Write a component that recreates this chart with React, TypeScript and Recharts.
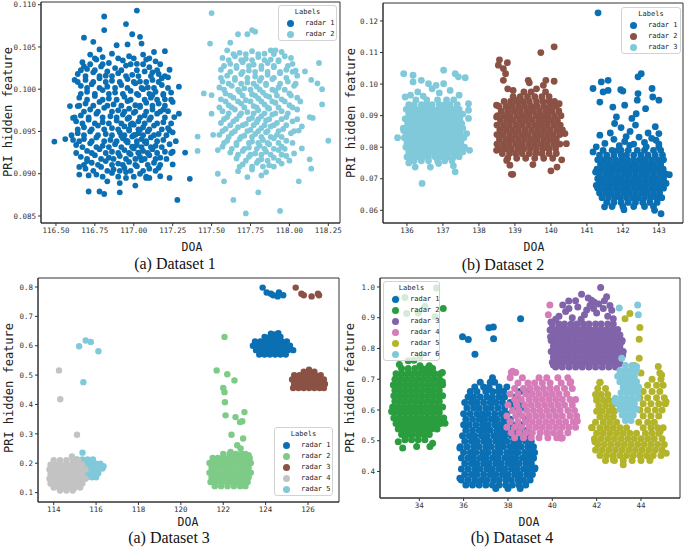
import React from 'react';
import { ScatterChart, Scatter, XAxis, YAxis, ReferenceArea } from 'recharts';

type Pt = [number, number];
type Row = [number, number[]];

// ---------------- Dataset 1 ----------------
const D1_R1: Pt[] = [
  [116.81,0.1086],[117.02,0.1093],[116.81,0.1070],[116.95,0.1077],[116.68,0.1061],[116.99,0.1065],[117.04,0.1062],[116.74,0.1056],
  [116.78,0.1047],[116.89,0.1052],[116.96,0.1053],[117.05,0.1054],[117.13,0.1044],[117.20,0.1045],[117.08,0.1035],[116.68,0.1027],
  [116.62,0.1011],[116.59,0.0980],[116.64,0.0980],[116.61,0.0966],[116.49,0.0938],[116.56,0.0941],[116.61,0.0940],[116.65,0.0908],
  [116.65,0.0899],[116.70,0.0915],[116.71,0.0898],[116.71,0.0879],[116.78,0.0879],[116.81,0.0876],[116.83,0.0891],[116.91,0.0878],
  [116.91,0.0889],[116.95,0.0895],[117.01,0.0886],[117.08,0.0895],[117.10,0.0895],[117.16,0.0907],[117.17,0.0897],[117.23,0.0895],
  [117.25,0.0911],[117.25,0.0926],[117.28,0.0869],[117.33,0.0925],[117.36,0.0894],[117.29,0.0971],[117.29,0.1003],[117.25,0.0985],
  [117.23,0.0951],[117.19,0.0976],[117.19,0.0993],[117.23,0.1023],[117.18,0.1013],[117.12,0.1020],[117.12,0.0993],
  [116.72,0.1041],[116.80,0.1038],[116.86,0.1042],[116.97,0.1039],[117.06,0.1041],
  [116.67,0.1032],[116.76,0.1035],[116.84,0.1031],[116.93,0.1034],[117.02,0.1030],[117.14,0.1033],
  [116.70,0.1024],[116.79,0.1027],[116.88,0.1025],[116.95,0.1028],[117.10,0.1026],[116.83,0.1021],
  [116.64,0.1018],[116.74,0.1020],[116.82,0.1016],[116.90,0.1019],[116.99,0.1017],[117.07,0.1021],[117.16,0.1018],
  [116.69,0.1011],[116.78,0.1013],[116.86,0.1010],[116.96,0.1012],[117.04,0.1009],[117.12,0.1011],[117.22,0.1014],
  [116.66,0.1004],[116.73,0.1006],[116.83,0.1003],[116.92,0.1005],[117.01,0.1007],[117.09,0.1002],[117.18,0.1005],
  [116.70,0.0997],[116.80,0.0999],[116.88,0.0996],[116.98,0.0998],[117.06,0.1000],[117.14,0.0997],[117.24,0.0996],
  [116.65,0.0990],[116.75,0.0992],[116.84,0.0989],[116.94,0.0991],[117.03,0.0993],[117.11,0.0990],[117.20,0.0988],
  [116.69,0.0983],[116.78,0.0985],[116.87,0.0982],[116.96,0.0986],[117.01,0.0981],[117.08,0.0984],[117.16,0.0983],
  [116.72,0.0976],[116.81,0.0978],[116.90,0.0975],[116.97,0.0977],[117.04,0.0979],[117.12,0.0976],[117.22,0.0974],
  [116.66,0.0969],[116.76,0.0971],[116.85,0.0968],[116.93,0.0970],[117.00,0.0972],[117.07,0.0969],[117.15,0.0971],[117.26,0.0967],
  [116.63,0.0962],[116.71,0.0964],[116.80,0.0961],[116.89,0.0963],[116.96,0.0965],[117.03,0.0962],[117.10,0.0964],[117.19,0.0961],
  [116.68,0.0955],[116.77,0.0957],[116.86,0.0954],[116.94,0.0956],[117.00,0.0958],[117.06,0.0955],[117.13,0.0957],[117.22,0.0954],
  [116.64,0.0948],[116.72,0.0950],[116.82,0.0947],[116.91,0.0949],[116.97,0.0951],[117.03,0.0948],[117.09,0.0950],[117.16,0.0947],[117.25,0.0949],
  [116.68,0.0941],[116.76,0.0943],[116.85,0.0940],[116.93,0.0942],[116.99,0.0944],[117.05,0.0941],[117.11,0.0943],[117.19,0.0940],
  [116.63,0.0934],[116.72,0.0936],[116.80,0.0933],[116.88,0.0935],[116.96,0.0937],[117.02,0.0934],[117.08,0.0936],[117.14,0.0933],[117.23,0.0935],
  [116.70,0.0927],[116.78,0.0929],[116.86,0.0926],[116.94,0.0928],[117.00,0.0930],[117.06,0.0927],[117.12,0.0929],[117.20,0.0926],
  [116.66,0.0920],[116.75,0.0922],[116.84,0.0919],[116.91,0.0921],[116.98,0.0923],[117.04,0.0920],[117.10,0.0922],[117.17,0.0919],
  [116.73,0.0913],[116.82,0.0915],[116.90,0.0912],[116.97,0.0914],[117.05,0.0916],[117.13,0.0913],
  [116.69,0.0906],[116.79,0.0908],[116.87,0.0905],[116.94,0.0907],[117.02,0.0909],[117.10,0.0906],
  [116.76,0.0899],[116.86,0.0901],[116.95,0.0902],[117.04,0.0900],
  [116.98,0.0958],[117.01,0.0946],[116.95,0.0939],[117.04,0.0952],[116.92,0.0945],[117.07,0.0938],[116.99,0.0932],[117.03,0.0925],
];
const D1_R1_FILL: Row[] = [
  [0.10365,[116.75,116.90,117.00,117.10]],
  [0.10295,[116.72,116.80,116.98,117.06,117.17]],
  [0.10225,[116.66,116.75,116.92,117.02,117.15]],
  [0.10155,[116.69,116.78,116.86,116.95,117.03,117.11,117.20]],
  [0.10085,[116.64,116.74,116.82,116.91,117.00,117.08,117.16]],
  [0.10015,[116.70,116.78,116.88,116.96,117.05,117.13,117.22]],
  [0.09945,[116.66,116.75,116.84,116.93,117.02,117.10,117.19]],
  [0.09875,[116.70,116.80,116.89,116.98,117.07,117.15,117.24]],
  [0.09805,[116.65,116.74,116.83,116.92,117.04,117.12,117.20]],
  [0.09735,[116.68,116.77,116.86,116.94,117.01,117.08,117.17]],
  [0.09665,[116.62,116.71,116.80,116.89,116.97,117.04,117.11,117.20]],
  [0.09595,[116.67,116.75,116.84,116.92,116.99,117.07,117.15,117.24]],
  [0.09525,[116.64,116.73,116.81,116.90,116.97,117.03,117.10,117.18]],
  [0.09455,[116.60,116.68,116.77,116.86,116.94,117.00,117.06,117.13,117.21]],
  [0.09385,[116.65,116.73,116.81,116.89,116.96,117.02,117.08,117.15,117.27]],
  [0.09315,[116.67,116.76,116.84,116.92,116.99,117.05,117.11,117.18]],
  [0.09245,[116.63,116.73,116.82,116.90,116.97,117.03,117.09,117.15,117.24]],
  [0.09175,[116.70,116.79,116.87,116.95,117.01,117.07,117.14,117.21]],
  [0.09105,[116.68,116.77,116.86,116.93,117.01,117.09,117.17]],
  [0.09035,[116.74,116.83,116.91,116.98,117.06,117.14]],
  [0.08965,[116.80,116.90,117.00,117.08]],
];

const D1_R2: Pt[] = [
  [117.50,0.1090],[117.49,0.1054],[117.73,0.1065],[117.76,0.1070],[117.78,0.1068],[117.67,0.1065],[117.62,0.1055],[117.88,0.1046],
  [117.91,0.1046],[118.19,0.1031],[118.18,0.1007],[118.21,0.1000],[118.21,0.0982],[118.25,0.0939],[118.13,0.0967],[118.15,0.0966],
  [118.13,0.0917],[118.14,0.0906],[118.06,0.0891],[117.80,0.0878],[117.64,0.0869],[117.72,0.0853],[117.94,0.0856],[117.58,0.0891],
  [117.54,0.0900],[117.45,0.0995],[117.41,0.0944],[117.41,0.0927],[117.50,0.0993],[117.50,0.0971],[117.51,0.0946],[117.54,0.0928],
  [118.03,0.0924],[118.08,0.0930],[118.08,0.0956],[118.14,0.1011],[118.04,0.1022],[118.10,0.1021],[118.01,0.1037],
  [117.60,0.1046],[117.68,0.1043],[117.76,0.1045],[117.84,0.1042],[117.95,0.1044],
  [117.57,0.1037],[117.65,0.1039],[117.72,0.1036],[117.80,0.1038],[117.88,0.1035],[117.97,0.1039],
  [117.62,0.1030],[117.70,0.1032],[117.77,0.1029],[117.86,0.1031],[117.93,0.1033],[118.02,0.1030],
  [117.56,0.1023],[117.66,0.1025],[117.74,0.1022],[117.82,0.1024],[117.90,0.1026],[117.98,0.1023],
  [117.60,0.1016],[117.69,0.1018],[117.78,0.1015],[117.86,0.1017],[117.94,0.1019],[118.05,0.1016],
  [117.57,0.1009],[117.65,0.1011],[117.73,0.1008],[117.81,0.1010],[117.89,0.1012],[117.99,0.1009],
  [117.55,0.1002],[117.63,0.1004],[117.71,0.1001],[117.79,0.1003],[117.85,0.1005],[117.93,0.1002],[118.03,0.1004],
  [117.59,0.0995],[117.68,0.0997],[117.76,0.0994],[117.83,0.0996],[117.91,0.0998],[118.00,0.0995],
  [117.56,0.0988],[117.64,0.0990],[117.72,0.0987],[117.80,0.0989],[117.87,0.0991],[117.95,0.0988],[118.05,0.0990],
  [117.61,0.0981],[117.69,0.0983],[117.77,0.0980],[117.84,0.0982],[117.91,0.0984],[118.00,0.0981],
  [117.57,0.0974],[117.65,0.0976],[117.73,0.0973],[117.80,0.0975],[117.87,0.0977],[117.95,0.0974],[118.05,0.0976],
  [117.60,0.0967],[117.68,0.0969],[117.76,0.0966],[117.82,0.0968],[117.89,0.0970],[117.98,0.0967],
  [117.56,0.0960],[117.64,0.0962],[117.72,0.0959],[117.79,0.0961],[117.85,0.0963],[117.92,0.0960],[118.02,0.0962],
  [117.59,0.0953],[117.67,0.0955],[117.75,0.0952],[117.82,0.0954],[117.88,0.0956],[117.96,0.0953],[118.06,0.0951],
  [117.55,0.0946],[117.63,0.0948],[117.71,0.0945],[117.78,0.0947],[117.85,0.0949],[117.92,0.0946],[118.01,0.0948],
  [117.60,0.0939],[117.68,0.0941],[117.76,0.0938],[117.83,0.0940],[117.90,0.0942],[117.98,0.0939],
  [117.57,0.0932],[117.66,0.0934],[117.74,0.0931],[117.81,0.0933],[117.87,0.0935],[117.95,0.0932],
  [117.62,0.0925],[117.70,0.0927],[117.78,0.0924],[117.85,0.0926],[117.93,0.0928],
  [117.66,0.0918],[117.74,0.0920],[117.82,0.0917],[117.90,0.0919],[117.98,0.0921],
  [117.70,0.0911],[117.79,0.0913],[117.87,0.0910],[117.95,0.0912],
  [117.67,0.0903],[117.76,0.0905],[117.85,0.0902],[117.73,0.0896],[117.82,0.0898],
];
const D1_R2_FILL: Row[] = [
  [0.10415,[117.64,117.72,117.80,117.90]],
  [0.10345,[117.61,117.69,117.76,117.84,117.93]],
  [0.10275,[117.58,117.66,117.74,117.82,117.90,117.99]],
  [0.10205,[117.62,117.70,117.78,117.86,117.94,118.02]],
  [0.10135,[117.56,117.65,117.73,117.82,117.90,117.98]],
  [0.10065,[117.61,117.69,117.77,117.85,117.94,118.04]],
  [0.09995,[117.58,117.67,117.75,117.81,117.89,117.97]],
  [0.09925,[117.62,117.70,117.78,117.85,117.92,118.01]],
  [0.09855,[117.59,117.67,117.75,117.82,117.89,117.97,118.07]],
  [0.09785,[117.55,117.63,117.71,117.79,117.86,117.93,118.02]],
  [0.09715,[117.61,117.69,117.77,117.84,117.91,117.99]],
  [0.09645,[117.58,117.66,117.74,117.80,117.87,117.95,118.05]],
  [0.09575,[117.62,117.70,117.77,117.84,117.90,117.98]],
  [0.09505,[117.57,117.65,117.73,117.80,117.86,117.93,118.03]],
  [0.09435,[117.61,117.69,117.76,117.82,117.88,117.95]],
  [0.09365,[117.58,117.66,117.74,117.80,117.86,117.93,118.02]],
  [0.09295,[117.63,117.71,117.79,117.84,117.90,117.97]],
  [0.09225,[117.67,117.75,117.82,117.88,117.95]],
  [0.09155,[117.72,117.80,117.86,117.93,118.00]],
  [0.09085,[117.68,117.76,117.83,117.90]],
];

// ---------------- Dataset 2 ----------------
const D2_R1_CORE: Row[] = [
  [0.0790,[141.45,141.7,141.95,142.15,142.4,142.6,142.85,143.05]],
  [0.0775,[141.35,141.55,141.75,141.95,142.1,142.3,142.5,142.7,142.9,143.1]],
  [0.0760,[141.3,141.47,141.63,141.8,141.97,142.13,142.3,142.47,142.63,142.8,142.97,143.13]],
  [0.0745,[141.38,141.55,141.72,141.88,142.05,142.22,142.38,142.55,142.72,142.88,143.05]],
  [0.0730,[141.28,141.45,141.62,141.78,141.95,142.12,142.28,142.45,142.62,142.78,142.95,143.12]],
  [0.0715,[141.35,141.52,141.68,141.85,142.02,142.18,142.35,142.52,142.68,142.85,143.02,143.18]],
  [0.0700,[141.3,141.46,141.63,141.8,141.96,142.13,142.3,142.46,142.63,142.8,142.96,143.13]],
  [0.0685,[141.37,141.54,141.7,141.87,142.04,142.2,142.37,142.54,142.7,142.87,143.04,143.2]],
  [0.0670,[141.3,141.47,141.63,141.8,141.97,142.13,142.3,142.47,142.63,142.8,142.97,143.13]],
  [0.0655,[141.35,141.52,141.68,141.85,142.02,142.18,142.35,142.52,142.68,142.85,143.02]],
  [0.0640,[141.42,141.6,141.77,141.93,142.1,142.27,142.43,142.6,142.77,142.93,143.08]],
  [0.0625,[141.55,141.75,141.95,142.15,142.35,142.55,142.75,142.95]],
  [0.0612,[141.7,142.0,142.3,142.6,142.85]],
];
const D2_R1_EDGE: Pt[] = [
  [141.31,0.1226],[141.17,0.0986],[141.40,0.1007],[141.59,0.1012],[141.36,0.0943],[141.45,0.0975],[141.59,0.0980],[141.36,0.0838],
  [141.26,0.0801],[141.17,0.0785],[141.72,0.0927],[141.82,0.0896],[141.77,0.0875],[141.94,0.0982],[142.0,0.0978],[142.05,0.0933],
  [142.25,0.0891],[142.42,0.0970],[142.51,0.1033],[142.42,0.1023],[142.40,0.0949],[142.37,0.0906],[142.63,0.0922],[142.81,0.0986],
  [142.83,0.0959],[143.0,0.0949],[143.0,0.0843],[142.92,0.0822],[143.0,0.0801],[143.29,0.0713],[143.06,0.0589],[142.88,0.0600],
  [142.03,0.0602],[141.49,0.0611],[141.26,0.0679],[141.24,0.0721],[142.09,0.0833],[142.19,0.0806],[141.86,0.0790],[142.51,0.0769],
  [142.65,0.0801],[141.5,0.0812],[141.75,0.0825],[141.9,0.0805],[142.05,0.0818],[142.3,0.0810],[142.45,0.0832],[142.6,0.0815],
  [142.8,0.0828],[143.0,0.0810],[141.65,0.0845],[142.2,0.0850],[142.7,0.0845],[142.35,0.0870],[141.95,0.0862],[142.9,0.0865],
];

const D2_R2_CORE: Row[] = [
  [0.0975,[139.25,139.45,139.85]],
  [0.0960,[138.95,139.15,139.35,139.55,139.75,139.95]],
  [0.0945,[138.7,138.88,139.05,139.22,139.4,139.6,139.78,139.95,140.1]],
  [0.0930,[138.55,138.75,138.92,139.1,139.27,139.45,139.62,139.8,139.98,140.15]],
  [0.0915,[138.62,138.8,138.98,139.15,139.33,139.5,139.68,139.86,140.03,140.22]],
  [0.0900,[138.52,138.7,138.87,139.05,139.22,139.4,139.58,139.75,139.92,140.1,140.28]],
  [0.0885,[138.6,138.78,138.95,139.13,139.3,139.48,139.66,139.83,140.0,140.18]],
  [0.0870,[138.5,138.68,138.85,139.03,139.2,139.38,139.56,139.73,139.9,140.08,140.26]],
  [0.0855,[138.58,138.76,138.93,139.1,139.28,139.46,139.63,139.8,139.98,140.16,140.32]],
  [0.0840,[138.5,138.67,138.85,139.02,139.2,139.37,139.55,139.72,139.9,140.07,140.25]],
  [0.0825,[138.57,138.75,138.92,139.1,139.27,139.45,139.62,139.8,139.97,140.15]],
  [0.0810,[138.5,138.68,138.85,139.03,139.2,139.38,139.55,139.73,139.9,140.08,140.25]],
  [0.0795,[138.55,138.73,138.9,139.08,139.25,139.43,139.6,139.78,139.95,140.13]],
  [0.0780,[138.65,138.85,139.02,139.2,139.4,139.58,139.75,139.95,140.15]],
  [0.0765,[138.8,139.05,139.3,139.55,139.8,140.05]],
];
const D2_R2_EDGE: Pt[] = [
  [138.57,0.1077],[138.54,0.1060],[138.79,0.1068],[138.68,0.1049],[138.74,0.1033],[138.68,0.1012],[139.72,0.1100],[140.09,0.1118],
  [139.79,0.0996],[139.86,0.1012],[140.09,0.1009],[139.37,0.1012],[139.40,0.1004],[140.23,0.0938],[140.43,0.0811],[140.39,0.0843],
  [140.0,0.0725],[140.17,0.0737],[138.94,0.0714],[138.9,0.0714],[138.86,0.0743],[138.77,0.0758],[138.49,0.0933],[138.49,0.0896],
  [138.49,0.0790],[138.95,0.0980],[139.09,0.0949],[139.6,0.0985],[138.8,0.0985],[140.3,0.0760],[139.5,0.0745],
];

const D2_R3_CORE: Row[] = [
  [0.0950,[136.25,136.55,136.85,137.1,137.3]],
  [0.0935,[136.05,136.2,136.4,136.55,136.7,136.9,137.05,137.2,137.4]],
  [0.0920,[135.98,136.12,136.27,136.42,136.58,136.72,136.87,137.0,137.15,137.3,137.45]],
  [0.0905,[136.05,136.2,136.35,136.5,136.65,136.8,136.95,137.1,137.25,137.4,137.55]],
  [0.0890,[135.95,136.1,136.27,136.42,136.57,136.72,136.87,137.02,137.17,137.32,137.47]],
  [0.0875,[136.02,136.17,136.32,136.47,136.62,136.77,136.92,137.07,137.22,137.37,137.52]],
  [0.0860,[135.9,136.05,136.2,136.35,136.5,136.65,136.8,136.95,137.1,137.25,137.4,137.55]],
  [0.0845,[135.98,136.13,136.28,136.43,136.58,136.73,136.88,137.03,137.18,137.33,137.48]],
  [0.0830,[135.93,136.08,136.23,136.38,136.53,136.68,136.83,136.98,137.13,137.28,137.43,137.58]],
  [0.0815,[136.0,136.15,136.3,136.45,136.6,136.75,136.9,137.05,137.2,137.35,137.5]],
  [0.0800,[135.97,136.12,136.27,136.42,136.57,136.72,136.87,137.02,137.17,137.32,137.47,137.6]],
  [0.0785,[136.05,136.2,136.35,136.5,136.65,136.8,136.95,137.1,137.25,137.4,137.55]],
  [0.0770,[136.1,136.27,136.45,136.6,136.78,136.95,137.12,137.3,137.45]],
  [0.0757,[136.2,136.4,136.6,136.85,137.05,137.25]],
];
const D2_R3_EDGE: Pt[] = [
  [135.74,0.0830],[135.91,0.1033],[136.17,0.1028],[136.40,0.1012],[136.17,0.1007],[136.42,0.0685],[136.23,0.0737],[136.05,0.0750],
  [136.0,0.0769],[137.02,0.1044],[137.34,0.1033],[137.43,0.1023],[137.62,0.1020],[137.71,0.0938],[137.71,0.0917],[137.71,0.0891],
  [137.74,0.0790],[137.66,0.0843],[137.34,0.0722],[137.29,0.0741],[136.88,0.0748],[136.65,0.0737],[136.81,0.0996],[137.02,0.1001],
  [137.2,0.0980],[136.60,0.1001],[135.95,0.0959],[135.91,0.0853],[136.3,0.0975],[136.7,0.0985],[136.9,0.0972],[137.45,0.0965],
  [136.1,0.0965],[136.45,0.0962],
];

// ---------------- Dataset 3 ----------------
const D3_R1_CORE: Row[] = [
  [0.630,[123.95,124.2,124.45,124.7]],
  [0.615,[123.5,123.75,124.0,124.25,124.5,124.75,125.0]],
  [0.600,[123.4,123.65,123.9,124.15,124.4,124.65,124.9,125.15]],
  [0.585,[123.55,123.8,124.05,124.3,124.55,124.8,125.05,125.3]],
  [0.570,[123.7,123.95,124.2,124.45,124.7,124.95]],
];
const D3_R1_EDGE: Pt[] = [
  [124.25,0.641],[124.6,0.643],[124.45,0.638],[123.86,0.798],[124.05,0.781],[124.36,0.772],[124.57,0.768],[124.63,0.781],[124.83,0.772],[124.25,0.777],
];
const D3_R2_CORE: Row[] = [
  [0.232,[122.0,122.3,122.6,122.85,123.05]],
  [0.218,[121.5,121.75,122.0,122.25,122.5,122.75,123.0,123.25]],
  [0.201,[121.35,121.6,121.85,122.1,122.35,122.6,122.85,123.1,123.3]],
  [0.185,[121.45,121.7,121.95,122.2,122.45,122.7,122.95,123.2]],
  [0.168,[121.35,121.6,121.85,122.1,122.35,122.6,122.85,123.1,123.3]],
  [0.152,[121.45,121.7,121.95,122.2,122.45,122.7,122.95,123.2]],
  [0.136,[121.4,121.65,121.9,122.15,122.4,122.65,122.9,123.15]],
  [0.122,[121.6,121.9,122.2,122.5,122.8,123.05]],
];
const D3_R2_EDGE: Pt[] = [
  [122.06,0.630],[121.69,0.516],[122.19,0.503],[122.53,0.482],[122.0,0.456],[122.06,0.442],[122.08,0.408],[122.11,0.363],
  [122.58,0.357],[123.0,0.374],[122.79,0.340],[122.9,0.343],[122.39,0.297],[122.94,0.284],[122.66,0.261],[122.82,0.250],
  [123.2,0.227],[122.35,0.238],
];
const D3_R3_CORE: Row[] = [
  [0.512,[125.8,126.05,126.3]],
  [0.500,[125.35,125.6,125.85,126.1,126.35,126.6]],
  [0.485,[125.25,125.5,125.75,126.0,126.25,126.5,126.75]],
  [0.470,[125.35,125.6,125.85,126.1,126.35,126.6,126.8]],
  [0.456,[125.3,125.55,125.8,126.05,126.3,126.55,126.75]],
];
const D3_R3_EDGE: Pt[] = [
  [126.05,0.518],[125.42,0.798],[125.69,0.777],[125.80,0.772],[126.17,0.768],[126.47,0.777],[126.52,0.772],
];
const D3_R4_CORE: Row[] = [
  [0.210,[114.0,114.3,114.6,114.9,115.15]],
  [0.195,[113.85,114.1,114.35,114.6,114.85,115.1,115.35]],
  [0.179,[113.8,114.05,114.3,114.55,114.8,115.05,115.3,115.5]],
  [0.163,[113.85,114.1,114.35,114.6,114.85,115.1,115.35]],
  [0.147,[113.8,114.05,114.3,114.55,114.8,115.05,115.3,115.5]],
  [0.131,[113.85,114.1,114.35,114.6,114.85,115.1,115.35]],
  [0.117,[114.0,114.25,114.5,114.75,115.0,115.25]],
  [0.107,[114.3,114.6,114.9]],
];
const D3_R4_EDGE: Pt[] = [[114.25,0.516],[114.31,0.418],[115.10,0.297],[114.86,0.223]];
const D3_R5_CORE: Row[] = [
  [0.213,[115.1,115.35,115.6,115.85]],
  [0.198,[115.0,115.25,115.5,115.75,116.0,116.2]],
  [0.182,[115.35,115.6,115.85,116.1,116.3]],
  [0.166,[115.4,115.65,115.9,116.1]],
  [0.152,[115.55,115.8,116.0]],
];
const D3_R5_EDGE: Pt[] = [
  [115.2,0.598],[115.51,0.618],[115.75,0.613],[116.11,0.581],[115.4,0.476],[115.36,0.236],[116.35,0.190],
];

// ---------------- Dataset 4 ----------------
const D4_R1_CORE: Row[] = [
  [0.690,[36.75,37.2,37.4]],
  [0.675,[36.5,36.9,37.15,37.6,37.95]],
  [0.660,[36.3,36.6,37.0,37.3,37.55,37.8,38.55]],
  [0.642,[36.2,36.45,36.75,37.05,37.3,37.6,37.85,38.35]],
  [0.624,[36.05,36.35,36.6,36.9,37.2,37.45,37.75,38.1,38.6]],
  [0.606,[36.15,36.45,36.7,37.0,37.25,37.55,37.85,38.25,38.7]],
  [0.588,[36.0,36.3,36.6,36.85,37.1,37.4,37.7,37.95,38.5]],
  [0.570,[36.1,36.4,36.7,36.95,37.25,37.5,37.8,38.1,38.8]],
  [0.552,[36.0,36.25,36.55,36.85,37.1,37.4,37.65,37.9,38.2,38.6]],
  [0.534,[36.1,36.4,36.7,36.95,37.2,37.5,37.75,38.0,38.3,38.55,38.85]],
  [0.516,[35.95,36.25,36.5,36.8,37.05,37.35,37.6,37.85,38.15,38.4,38.7,39.0]],
  [0.498,[36.05,36.35,36.6,36.9,37.15,37.45,37.7,37.95,38.25,38.5,38.8,39.05]],
  [0.480,[35.85,36.15,36.45,36.7,37.0,37.25,37.55,37.8,38.1,38.35,38.6,38.9,39.15]],
  [0.462,[36.0,36.3,36.55,36.85,37.1,37.4,37.65,37.95,38.2,38.45,38.75,39.0,39.2]],
  [0.444,[35.9,36.2,36.45,36.75,37.0,37.3,37.55,37.85,38.1,38.35,38.65,38.9,39.15]],
  [0.426,[36.05,36.35,36.6,36.9,37.15,37.45,37.7,38.0,38.25,38.5,38.8,39.05]],
  [0.408,[35.9,36.2,36.5,36.75,37.05,37.3,37.6,37.85,38.15,38.4,38.7,38.95,39.2]],
  [0.390,[36.05,36.35,36.6,36.9,37.2,37.45,37.75,38.0,38.3,38.55,38.85,39.1]],
  [0.372,[35.9,36.2,36.5,36.8,37.05,37.35,37.6,37.9,38.15,38.45,38.7,39.0]],
  [0.356,[36.1,36.4,36.7,37.0,37.3,37.6,37.9,38.2,38.5,38.8]],
  [0.345,[37.45,38.0,38.55]],
];
const D4_R1_EDGE: Pt[] = [
  [35.95,0.838],[36.21,0.829],[36.51,0.781],[37.14,0.867],[37.34,0.870],[37.35,0.832],[38.57,0.897],[37.3,0.705],
  [38.9,0.660],[35.83,0.476],[35.83,0.378],[39.22,0.411],[39.14,0.443],
];
const D4_R2_CORE: Row[] = [
  [0.735,[33.2,33.5,33.8,34.1,34.35,34.6]],
  [0.718,[32.95,33.2,33.45,33.7,33.95,34.2,34.45,34.7,34.95]],
  [0.700,[32.9,33.15,33.4,33.65,33.9,34.15,34.4,34.65,34.9]],
  [0.682,[32.85,33.1,33.35,33.6,33.85,34.1,34.35,34.6,34.85,35.05]],
  [0.664,[32.9,33.15,33.4,33.65,33.9,34.15,34.4,34.65,34.9]],
  [0.646,[32.85,33.1,33.35,33.6,33.85,34.1,34.35,34.6,34.85,35.05]],
  [0.628,[32.9,33.15,33.4,33.65,33.9,34.15,34.4,34.65,34.9]],
  [0.610,[32.8,33.05,33.3,33.55,33.8,34.05,34.3,34.55,34.8,35.05]],
  [0.592,[32.9,33.15,33.4,33.65,33.9,34.15,34.4,34.65,34.9]],
  [0.574,[32.85,33.1,33.35,33.6,33.85,34.1,34.35,34.6,34.85,35.1]],
  [0.556,[32.95,33.2,33.45,33.7,33.95,34.2,34.45,34.7,34.95]],
  [0.538,[33.05,33.3,33.55,33.8,34.05,34.3,34.55,34.8]],
  [0.520,[33.2,33.45,33.7,33.95,34.2,34.45]],
  [0.503,[33.35,33.65,33.95,34.25]],
];
const D4_R2_EDGE: Pt[] = [
  [33.10,0.748],[34.03,0.744],[34.45,0.744],[35.04,0.722],[35.04,0.692],[35.16,0.557],[34.60,0.492],[34.48,0.481],
  [33.88,0.481],[33.25,0.476],[33.05,0.497],[32.75,0.595],[32.83,0.681],[33.76,0.762],[34.03,0.773],[33.5,0.760],
  [34.78,0.997],[33.35,0.966],[34.26,0.937],[33.43,0.914],[33.95,0.915],[34.71,0.903],[32.98,0.962],[35.08,0.930],
];
const D4_R3_CORE: Row[] = [
  [0.880,[40.0,40.3,40.55,40.85,41.1,41.4,41.65,41.95,42.2,42.5,42.75]],
  [0.862,[39.95,40.2,40.45,40.7,40.95,41.2,41.45,41.7,41.95,42.2,42.45,42.7,42.95]],
  [0.844,[40.05,40.3,40.55,40.8,41.05,41.3,41.55,41.8,42.05,42.3,42.55,42.8,43.05]],
  [0.826,[39.95,40.2,40.45,40.7,40.95,41.2,41.45,41.7,41.95,42.2,42.45,42.7,42.95,43.15]],
  [0.808,[40.05,40.3,40.55,40.8,41.05,41.3,41.55,41.8,42.05,42.3,42.55,42.8,43.05]],
  [0.790,[39.95,40.2,40.45,40.7,40.95,41.2,41.45,41.7,41.95,42.2,42.45,42.7,42.95,43.2]],
  [0.772,[40.05,40.3,40.55,40.8,41.05,41.3,41.55,41.8,42.05,42.3,42.55,42.8,43.05]],
  [0.755,[40.0,40.25,40.5,40.75,41.0,41.25,41.5,41.75,42.0,42.25,42.5,42.75,43.0]],
  [0.740,[40.15,40.45,40.75,41.05,41.35,41.65,41.95,42.25,42.55,42.85]],
];
const D4_R3_EDGE: Pt[] = [
  [42.18,0.998],[41.32,0.976],[41.62,0.964],[41.77,0.957],[40.74,0.954],[40.47,0.941],[42.45,0.968],[41.86,0.930],
  [42.68,0.924],[42.75,0.897],[39.94,0.886],[39.92,0.838],[40.05,0.746],[43.13,0.822],[43.17,0.778],[43.05,0.751],
  [40.3,0.905],[40.6,0.920],[40.9,0.900],[41.15,0.935],[41.45,0.910],[41.7,0.940],[42.0,0.915],[42.3,0.930],
  [42.5,0.905],[41.05,0.955],[41.9,0.950],[42.1,0.945],[40.15,0.895],[41.3,0.895],[42.35,0.955],[42.6,0.940],
  [39.9,0.860],[40.75,0.930],[41.55,0.925],
];
const D4_R4_CORE: Row[] = [
  [0.722,[38.15,38.35]],
  [0.705,[38.1,38.65,39.4,39.75,40.25,40.7]],
  [0.688,[38.45,38.9,39.2,39.55,39.9,40.4,40.8]],
  [0.670,[38.3,38.7,39.0,39.3,39.6,39.9,40.2,40.55,40.9]],
  [0.652,[38.1,38.45,38.8,39.1,39.4,39.7,40.0,40.3,40.65]],
  [0.634,[38.3,38.6,38.95,39.25,39.55,39.85,40.15,40.45,40.8,41.05]],
  [0.616,[38.0,38.4,38.75,39.05,39.35,39.65,39.95,40.25,40.55,40.9]],
  [0.598,[38.2,38.5,38.85,39.15,39.45,39.75,40.05,40.35,40.7,41.0]],
  [0.580,[37.95,38.35,38.65,38.95,39.25,39.55,39.85,40.15,40.45,40.8,41.1]],
  [0.562,[38.1,38.45,38.8,39.1,39.4,39.7,40.0,40.3,40.6,40.95]],
  [0.544,[37.95,38.3,38.6,38.95,39.25,39.55,39.85,40.15,40.45,40.75,41.05]],
  [0.526,[38.15,38.5,38.8,39.1,39.45,39.75,40.05,40.35,40.7]],
  [0.510,[38.3,38.7,39.05,39.4,39.8,40.2,40.45]],
];
const D4_R4_EDGE: Pt[] = [[39.89,0.941],[39.82,0.910],[38.21,0.726],[40.83,0.692],[41.13,0.564],[40.42,0.508]];
const D4_R5_CORE: Row[] = [
  [0.720,[44.85]],
  [0.700,[44.5,44.9]],
  [0.690,[42.15]],
  [0.680,[44.3,44.7,45.0]],
  [0.670,[42.05,42.4]],
  [0.660,[44.1,44.5,44.85]],
  [0.650,[41.95,42.2,42.5]],
  [0.640,[43.95,44.3,44.7,45.05]],
  [0.632,[42.0,42.3,42.55,42.8]],
  [0.620,[44.1,44.45,44.8,45.1]],
  [0.614,[42.1,42.4,42.7]],
  [0.600,[43.95,44.3,44.65,44.95]],
  [0.596,[42.0,42.25,42.55,42.8]],
  [0.580,[44.1,44.45,44.8]],
  [0.578,[42.15,42.45,42.75]],
  [0.560,[41.95,42.3,42.6,42.9,43.9,44.3,44.6]],
  [0.542,[41.8,42.15,42.45,42.75,43.05,43.35,44.1,44.45,44.75,45.0]],
  [0.524,[42.0,42.3,42.6,42.9,43.2,43.5,43.8,44.2,44.5,44.8]],
  [0.506,[41.9,42.2,42.5,42.8,43.1,43.4,43.7,44.0,44.3,44.6,44.95]],
  [0.488,[42.05,42.35,42.65,42.95,43.25,43.55,43.85,44.15,44.45,44.75,45.05]],
  [0.470,[41.95,42.25,42.55,42.85,43.15,43.45,43.75,44.05,44.35,44.65,44.95]],
  [0.452,[42.15,42.45,42.75,43.05,43.35,43.65,43.95,44.25,44.55,44.9]],
  [0.436,[42.4,42.8,43.2,43.6,44.0,44.4]],
];
const D4_R5_EDGE: Pt[] = [
  [43.50,0.914],[43.28,0.897],[43.95,0.868],[43.92,0.830],[43.92,0.768],[44.78,0.741],[44.93,0.714],[42.15,0.689],
  [42.0,0.643],[41.77,0.543],[41.92,0.497],[45.13,0.627],[45.14,0.459],[43.20,0.422],[42.75,0.438],[44.41,0.443],
  [44.86,0.530],[43.7,0.745],[44.0,0.720],
];
const D4_R6_CORE: Row[] = [
  [0.745,[43.3,43.6]],
  [0.728,[43.05,43.3,43.55,43.8]],
  [0.710,[42.95,43.2,43.45,43.7]],
  [0.692,[43.05,43.3,43.55,43.8]],
  [0.674,[43.2,43.45,43.7,43.9]],
  [0.656,[43.1,43.35,43.6,43.85]],
  [0.638,[42.85,43.1,43.35,43.6,43.85]],
  [0.620,[42.95,43.2,43.45,43.7]],
  [0.602,[43.05,43.3,43.55,43.8]],
  [0.584,[43.15,43.4,43.65]],
  [0.566,[43.3,43.55]],
];
const D4_R6_EDGE: Pt[] = [[43.02,0.932],[43.85,0.941],[43.88,0.910],[43.13,0.768],[43.80,0.741],[42.83,0.627]];

// ---------------- Ticks ----------------
const D1_XTICKS = [116.5, 116.75, 117, 117.25, 117.5, 117.75, 118, 118.25];
const D1_YTICKS = [0.085, 0.09, 0.095, 0.1, 0.105, 0.11];
const D2_XTICKS = [136, 137, 138, 139, 140, 141, 142, 143];
const D2_YTICKS = [0.06, 0.07, 0.08, 0.09, 0.1, 0.11, 0.12];
const D3_XTICKS = [114, 116, 118, 120, 122, 124, 126];
const D3_YTICKS = [0.1, 0.2, 0.3, 0.4, 0.5, 0.6, 0.7, 0.8];
const D4_XTICKS = [34, 36, 38, 40, 42, 44];
const D4_YTICKS = [0.4, 0.5, 0.6, 0.7, 0.8, 0.9, 1.0];

// ---------------- Colours ----------------
const BLUE = '#0b6fb3';
const CYAN = '#80c9da';
const BROWN = '#8a5144';
const LGREEN = '#7dcb86';
const LGRAY = '#c3c3c3';
const GREEN = '#2a9d3e';
const PURPLE = '#8163a9';
const PINK = '#d67cb9';
const OLIVE = '#b3b42a';

const rows = (r: Row[]): Pt[] => r.flatMap(([y, xs]) => xs.map((x) => [x, y] as Pt));

interface Series { name: string; color: string; pts: Pt[] }
interface PanelCfg {
  plot: { left: number; top: number; width: number; height: number };
  xDomain: [number, number];
  yDomain: [number, number];
  xTicks: number[];
  yTicks: number[];
  xFmt: (v: number) => string;
  yFmt: (v: number) => string;
  series: Series[];
  drawOrder?: number[];
  r: number;
  legend: { left: number; top: number; width: number };
  caption: string;
  captionPos: [number, number];
  xLabelPos: [number, number];
  yLabelPos: [number, number];
}

const MONO = '"DejaVu Sans Mono", "Liberation Mono", monospace';
const SERIF = '"Liberation Serif", "DejaVu Serif", serif';

const PANELS: PanelCfg[] = [
  {
    plot: { left: 41, top: 2, width: 299, height: 221 },
    xDomain: [116.404, 118.325], yDomain: [0.084172, 0.110316],
    xTicks: D1_XTICKS, yTicks: D1_YTICKS,
    xFmt: (v) => v.toFixed(2), yFmt: (v) => v.toFixed(3),
    series: [
      { name: 'radar 1', color: BLUE, pts: [...D1_R1, ...rows(D1_R1_FILL)] },
      { name: 'radar 2', color: CYAN, pts: [...D1_R2, ...rows(D1_R2_FILL)] },
    ],
    r: 2.9,
    legend: { left: 278, top: 5, width: 59 },
    caption: '(a) Dataset 1', captionPos: [175, 264], xLabelPos: [192, 247], yLabelPos: [8, 112],
  },
  {
    plot: { left: 383, top: 3, width: 300, height: 220 },
    xDomain: [135.335, 143.67], yDomain: [0.05597, 0.1257],
    xTicks: D2_XTICKS, yTicks: D2_YTICKS,
    xFmt: (v) => String(v), yFmt: (v) => v.toFixed(2),
    series: [
      { name: 'radar 1', color: BLUE, pts: [...rows(D2_R1_CORE), ...D2_R1_EDGE] },
      { name: 'radar 2', color: BROWN, pts: [...rows(D2_R2_CORE), ...D2_R2_EDGE] },
      { name: 'radar 3', color: CYAN, pts: [...rows(D2_R3_CORE), ...D2_R3_EDGE] },
    ],
    r: 3.4,
    legend: { left: 621, top: 7, width: 60 },
    caption: '(b) Dataset 2', captionPos: [503, 265], xLabelPos: [534, 247], yLabelPos: [351, 113],
  },
  {
    plot: { left: 38, top: 278, width: 301, height: 224 },
    xDomain: [113.259, 127.463], yDomain: [0.068, 0.8306],
    xTicks: D3_XTICKS, yTicks: D3_YTICKS,
    xFmt: (v) => String(v), yFmt: (v) => v.toFixed(1),
    series: [
      { name: 'radar 1', color: BLUE, pts: [...rows(D3_R1_CORE), ...D3_R1_EDGE] },
      { name: 'radar 2', color: LGREEN, pts: [...rows(D3_R2_CORE), ...D3_R2_EDGE] },
      { name: 'radar 3', color: BROWN, pts: [...rows(D3_R3_CORE), ...D3_R3_EDGE] },
      { name: 'radar 4', color: LGRAY, pts: [...rows(D3_R4_CORE), ...D3_R4_EDGE] },
      { name: 'radar 5', color: CYAN, pts: [...rows(D3_R5_CORE), ...D3_R5_EDGE] },
    ],
    drawOrder: [0, 1, 2, 4, 3],
    r: 3.2,
    legend: { left: 274, top: 427, width: 59 },
    caption: '(a) Dataset 3', captionPos: [169, 538], xLabelPos: [188, 522], yLabelPos: [9, 388],
  },
  {
    plot: { left: 380, top: 278, width: 300, height: 220 },
    xDomain: [32.227, 45.76], yDomain: [0.3137, 1.0292],
    xTicks: D4_XTICKS, yTicks: D4_YTICKS,
    xFmt: (v) => String(v), yFmt: (v) => v.toFixed(1),
    series: [
      { name: 'radar 1', color: BLUE, pts: [...rows(D4_R1_CORE), ...D4_R1_EDGE] },
      { name: 'radar 2', color: GREEN, pts: [...rows(D4_R2_CORE), ...D4_R2_EDGE] },
      { name: 'radar 3', color: PURPLE, pts: [...rows(D4_R3_CORE), ...D4_R3_EDGE] },
      { name: 'radar 4', color: PINK, pts: [...rows(D4_R4_CORE), ...D4_R4_EDGE] },
      { name: 'radar 5', color: OLIVE, pts: [...rows(D4_R5_CORE), ...D4_R5_EDGE] },
      { name: 'radar 6', color: CYAN, pts: [...rows(D4_R6_CORE), ...D4_R6_EDGE] },
    ],
    r: 3.5,
    legend: { left: 383, top: 281, width: 57 },
    caption: '(b) Dataset 4', captionPos: [512, 538], xLabelPos: [529, 522], yLabelPos: [350, 388],
  },
];

function LegendBox({ cfg }: { cfg: PanelCfg }) {
  const { legend, series } = cfg;
  const h = 18 + (series.length - 1) * 11 + 7;
  return (
    <div style={{
      position: 'absolute', left: legend.left, top: legend.top, width: legend.width, height: h,
      border: '1px solid #d3d3d3', borderRadius: 3, background: 'rgba(255,255,255,0.8)', boxSizing: 'border-box',
      fontFamily: MONO, fontSize: 7, color: '#222',
    }}>
      <div style={{ position: 'absolute', left: 0, right: 0, top: 2, textAlign: 'center', lineHeight: '9px' }}>Labels</div>
      {series.map((s, i) => (
        <React.Fragment key={s.name}>
          <div style={{ position: 'absolute', left: 7.5, top: 17 + i * 11 - 3.5, width: 7, height: 7, borderRadius: '50%', background: s.color }} />
          <div style={{ position: 'absolute', left: 26, top: 17 + i * 11 - 4.5, lineHeight: '9px', whiteSpace: 'nowrap' }}>{s.name}</div>
        </React.Fragment>
      ))}
    </div>
  );
}

function Panel({ cfg }: { cfg: PanelCfg }) {
  const YW = 40, XH = 16, TP = 4, RP = 4;
  const { plot } = cfg;
  const W = YW + plot.width + RP;
  const H = TP + plot.height + XH;
  const tickStyle = { fontSize: 7.5, fontFamily: MONO, fill: '#333' };
  const order = cfg.drawOrder ?? cfg.series.map((_, i) => i);
  return (
    <>
      <div style={{ position: 'absolute', left: plot.left - YW, top: plot.top - TP, width: W, height: H }}>
        <ScatterChart width={W} height={H} margin={{ top: TP, right: RP, left: 0, bottom: 0 }}>
          <XAxis type="number" dataKey="x" domain={cfg.xDomain} ticks={cfg.xTicks} allowDataOverflow interval={0}
            height={XH} tickFormatter={cfg.xFmt} tick={tickStyle} tickSize={3} tickMargin={2}
            axisLine={{ stroke: '#333' }} tickLine={{ stroke: '#333' }} />
          <YAxis type="number" dataKey="y" domain={cfg.yDomain} ticks={cfg.yTicks} allowDataOverflow interval={0}
            width={YW} tickFormatter={cfg.yFmt} tick={tickStyle} tickSize={3} tickMargin={2}
            axisLine={{ stroke: '#333' }} tickLine={{ stroke: '#333' }} />
          {order.map((i) => {
            const s = cfg.series[i];
            return (
              <Scatter key={s.name} name={s.name} data={s.pts.map(([x, y]) => ({ x, y }))} fill={s.color}
                isAnimationActive={false}
                shape={(p: any) => <circle cx={p.cx} cy={p.cy} r={cfg.r} fill={s.color} />} />
            );
          })}
          <ReferenceArea x1={cfg.xDomain[0]} x2={cfg.xDomain[1]} y1={cfg.yDomain[0]} y2={cfg.yDomain[1]}
            fill="none" stroke="#333" strokeWidth={1} ifOverflow="visible" />
        </ScatterChart>
      </div>
      <LegendBox cfg={cfg} />
      <div style={{ position: 'absolute', left: cfg.xLabelPos[0], top: cfg.xLabelPos[1], transform: 'translate(-50%,-50%)',
        fontFamily: MONO, fontSize: 11.5, color: '#222', whiteSpace: 'nowrap' }}>DOA</div>
      <div style={{ position: 'absolute', left: cfg.yLabelPos[0], top: cfg.yLabelPos[1], transform: 'translate(-50%,-50%) rotate(-90deg)',
        fontFamily: MONO, fontSize: 12, color: '#222', whiteSpace: 'nowrap' }}>PRI hidden feature</div>
      <div style={{ position: 'absolute', left: cfg.captionPos[0], top: cfg.captionPos[1], transform: 'translate(-50%,-50%)',
        fontFamily: SERIF, fontSize: 16, color: '#111', whiteSpace: 'nowrap' }}>{cfg.caption}</div>
    </>
  );
}

export default function App() {
  return (
    <div style={{ position: 'absolute', left: 0, top: 0, width: 685, height: 551, background: '#fff', overflow: 'hidden' }}>
      {PANELS.map((p) => <Panel key={p.caption} cfg={p} />)}
    </div>
  );
}
